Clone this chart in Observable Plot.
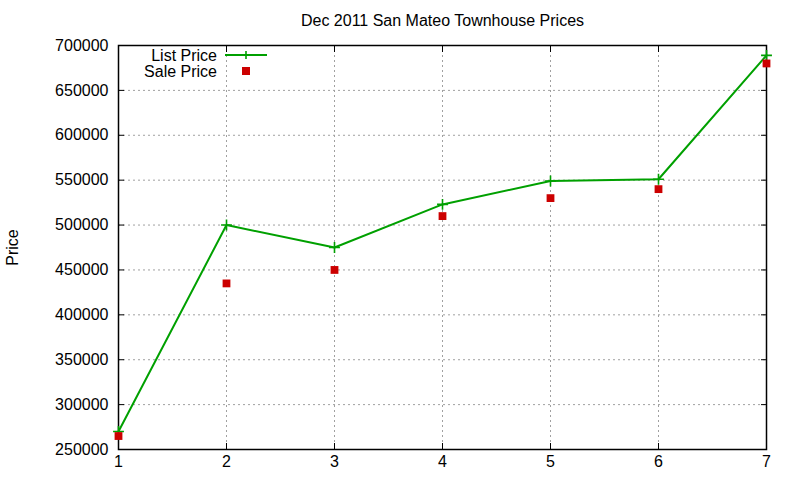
<!DOCTYPE html>
<html>
<head>
<meta charset="utf-8">
<script src="https://cdn.jsdelivr.net/npm/d3@7"></script>
<script src="https://cdn.jsdelivr.net/npm/@observablehq/plot@0.6"></script>
<style>
  html, body { margin: 0; padding: 0; background: #fff; }
  svg { font-family: "Liberation Sans", Arial, sans-serif; }
</style>
</head>
<body>
<div id="chart"></div>
<script>
const months = [1, 2, 3, 4, 5, 6, 7];
const listPrice = [270000, 500000, 475000, 523000, 549000, 551000, 689000];
const salePrice = [265000, 435000, 450000, 510000, 530000, 540000, 680000];
const yTicks = [250000, 300000, 350000, 400000, 450000, 500000, 550000, 600000, 650000, 700000];
const title = "Dec 2011 San Mateo Townhouse Prices";
const yLabel = "Price";
const seriesNames = ["List Price", "Sale Price"];

const listData = months.map((m, i) => ({x: m, y: listPrice[i]}));
const saleData = months.map((m, i) => ({x: m, y: salePrice[i]}));

const green = "#00a000";
const red = "#cc0000";
const fs = 16;

const plot = Plot.plot({
  width: 800,
  height: 480,
  marginLeft: 118,
  marginRight: 34,
  marginTop: 45,
  marginBottom: 31,
  style: {fontFamily: '"Liberation Sans", Arial, sans-serif', fontSize: fs + "px", color: "#000", background: "#fff"},
  x: {domain: [1, 7]},
  y: {domain: [250000, 700000]},
  marks: [
    Plot.gridX(months.slice(1, -1), {stroke: "#a0a0a0", strokeOpacity: 1, strokeDasharray: "2,3", strokeWidth: 1}),
    Plot.gridY(yTicks.slice(1, -1), {stroke: "#a0a0a0", strokeOpacity: 1, strokeDasharray: "2,3", strokeWidth: 1}),
    Plot.axisX(months, {anchor: "bottom", tickSize: 0, tickPadding: 6, label: null, fontSize: fs, tickFormat: d => String(d)}),
    Plot.axisY(yTicks, {anchor: "left", tickSize: 0, tickPadding: 10, label: null, fontSize: fs, tickFormat: d => String(d)}),
    Plot.axisY(yTicks, {anchor: "left", tickSize: -6, tickPadding: 0, label: null, tickFormat: () => ""}),
    Plot.axisY(yTicks, {anchor: "right", tickSize: -6, tickPadding: 0, label: null, tickFormat: () => ""}),
    Plot.axisX(months, {anchor: "bottom", tickSize: -6, tickPadding: 0, label: null, tickFormat: () => ""}),
    Plot.axisX(months, {anchor: "top", tickSize: -6, tickPadding: 0, label: null, tickFormat: () => ""}),
    Plot.frame({stroke: "#000", strokeWidth: 1.5}),
    Plot.line(listData, {x: "x", y: "y", stroke: green, strokeWidth: 2}),
    Plot.dot(listData, {x: "x", y: "y", symbol: "plus", r: 3.6, stroke: green, strokeWidth: 1.6}),
    Plot.dot(saleData, {x: "x", y: "y", symbol: "square", r: 4.4, fill: red, stroke: "none"}),
    Plot.text([title], {frameAnchor: "top", lineAnchor: "middle", textAnchor: "middle", dy: -25, fontSize: 16, fill: "#000"}),
    Plot.text([yLabel], {frameAnchor: "left", textAnchor: "middle", lineAnchor: "middle", dx: -106, rotate: -90, fontSize: fs, fill: "#000"})
  ]
});

document.getElementById("chart").appendChild(plot);

// legend inside the frame, top-left
const svg = d3.select(plot);
const legend = svg.append("g").attr("transform", "translate(118,45)");
const rows = [
  {name: seriesNames[0], kind: "line"},
  {name: seriesNames[1], kind: "square"}
];
rows.forEach((r, i) => {
  const y = 10 + i * 16;
  legend.append("text")
    .attr("x", 99).attr("y", y).attr("dy", "0.35em")
    .attr("text-anchor", "end")
    .attr("font-size", fs)
    .attr("fill", "#000")
    .text(r.name);
  if (r.kind === "line") {
    legend.append("line").attr("x1", 107).attr("x2", 149).attr("y1", y).attr("y2", y)
      .attr("stroke", green).attr("stroke-width", 2);
    legend.append("path").attr("d", `M${128 - 4},${y}h8M128,${y - 4}v8`)
      .attr("stroke", green).attr("stroke-width", 1.6);
  } else {
    legend.append("rect").attr("x", 128 - 4).attr("y", y - 4).attr("width", 8).attr("height", 8)
      .attr("fill", red);
  }
});
</script>
</body>
</html>
